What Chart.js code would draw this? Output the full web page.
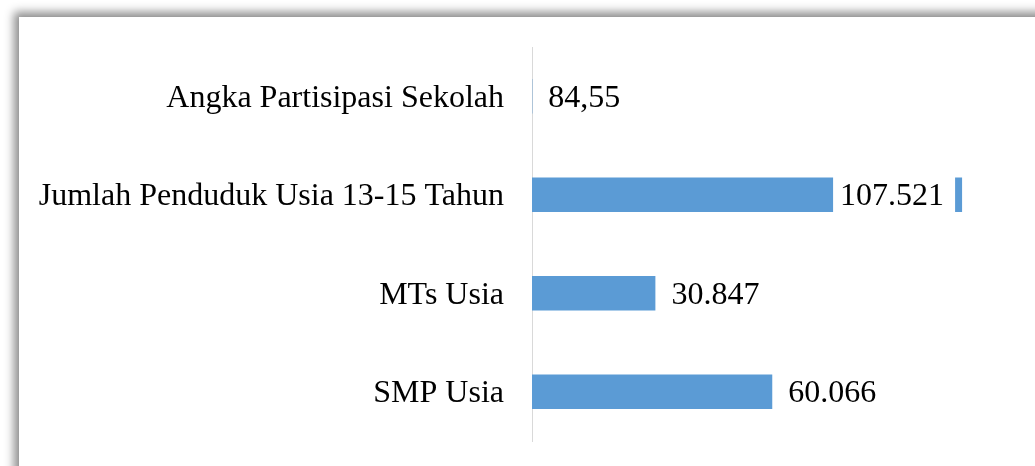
<!DOCTYPE html>
<html>
<head>
<meta charset="utf-8">
<script src="https://cdn.jsdelivr.net/npm/chart.js@4/dist/chart.umd.min.js"></script>
<style>
  html, body { margin: 0; padding: 0; width: 1035px; height: 466px; overflow: hidden; background: #ffffff; }
  #frame { position: absolute; left: 19px; top: 17px; width: 1100px; height: 520px; background: #ffffff;
           box-shadow: -5px -5px 9px rgba(0,0,0,0.45); }
  #wrap { position: absolute; left: 0; top: 0; width: 1035px; height: 466px; }
</style>
</head>
<body>
<div id="frame"></div>
<div id="wrap"><canvas id="c" width="1035" height="466"></canvas></div>
<script>
const categories = ["Angka Partisipasi Sekolah", "Jumlah Penduduk Usia 13-15 Tahun", "MTs Usia", "SMP Usia"];
const values = [84.55, 107521, 30847, 60066];

function fmtID(v) {
  if (Number.isInteger(v)) {
    return String(v).replace(/\B(?=(\d{3})+(?!\d))/g, ".");
  }
  return String(v).replace(".", ",");
}

const FONT = { family: "'Liberation Serif', 'Times New Roman', serif", size: 32 };

const labelPlugin = {
  id: "valueLabels",
  afterDatasetsDraw(chart) {
    const ctx = chart.ctx;
    const meta = chart.getDatasetMeta(0);
    const area = chart.chartArea;
    ctx.save();
    ctx.font = FONT.size + "px " + FONT.family;
    ctx.textBaseline = "middle";
    meta.data.forEach((bar, i) => {
      const txt = fmtID(values[i]);
      const w = ctx.measureText(txt).width;
      const offset = 16;
      if (bar.x + offset + w > area.right) {
        const right = bar.x - 7;
        ctx.fillStyle = "#ffffff";
        ctx.fillRect(right - w - 18, bar.y - bar.height / 2 - 1, w + 18, bar.height + 2);
        ctx.fillStyle = "#000000";
        ctx.textAlign = "right";
        ctx.fillText(txt, right - 11, bar.y + 2);
      } else {
        ctx.fillStyle = "#000000";
        ctx.textAlign = "left";
        ctx.fillText(txt, bar.x + offset, bar.y + 2);
      }
    });
    ctx.restore();
  }
};

new Chart(document.getElementById("c"), {
  type: "bar",
  data: {
    labels: categories,
    datasets: [{
      data: values,
      backgroundColor: "#5b9bd5",
      borderWidth: 0,
      categoryPercentage: 1.0,
      barPercentage: 0.352
    }]
  },
  options: {
    indexAxis: "y",
    responsive: false,
    animation: false,
    events: [],
    layout: { padding: { top: 47, bottom: 25, right: 23, left: 0 } },
    plugins: { legend: { display: false }, tooltip: { enabled: false } },
    scales: {
      x: { display: false, min: 0, max: 120000 },
      y: {
        grid: { display: false, drawTicks: false },
        border: { display: true, color: "#d9d9d9", width: 1 },
        ticks: { color: "#000000", font: FONT, padding: 28, labelOffset: 2 },
        afterFit(scale) { scale.width = 532; scale.paddingTop = 0; scale.paddingBottom = 0; }
      }
    }
  },
  plugins: [labelPlugin]
});
</script>
</body>
</html>
